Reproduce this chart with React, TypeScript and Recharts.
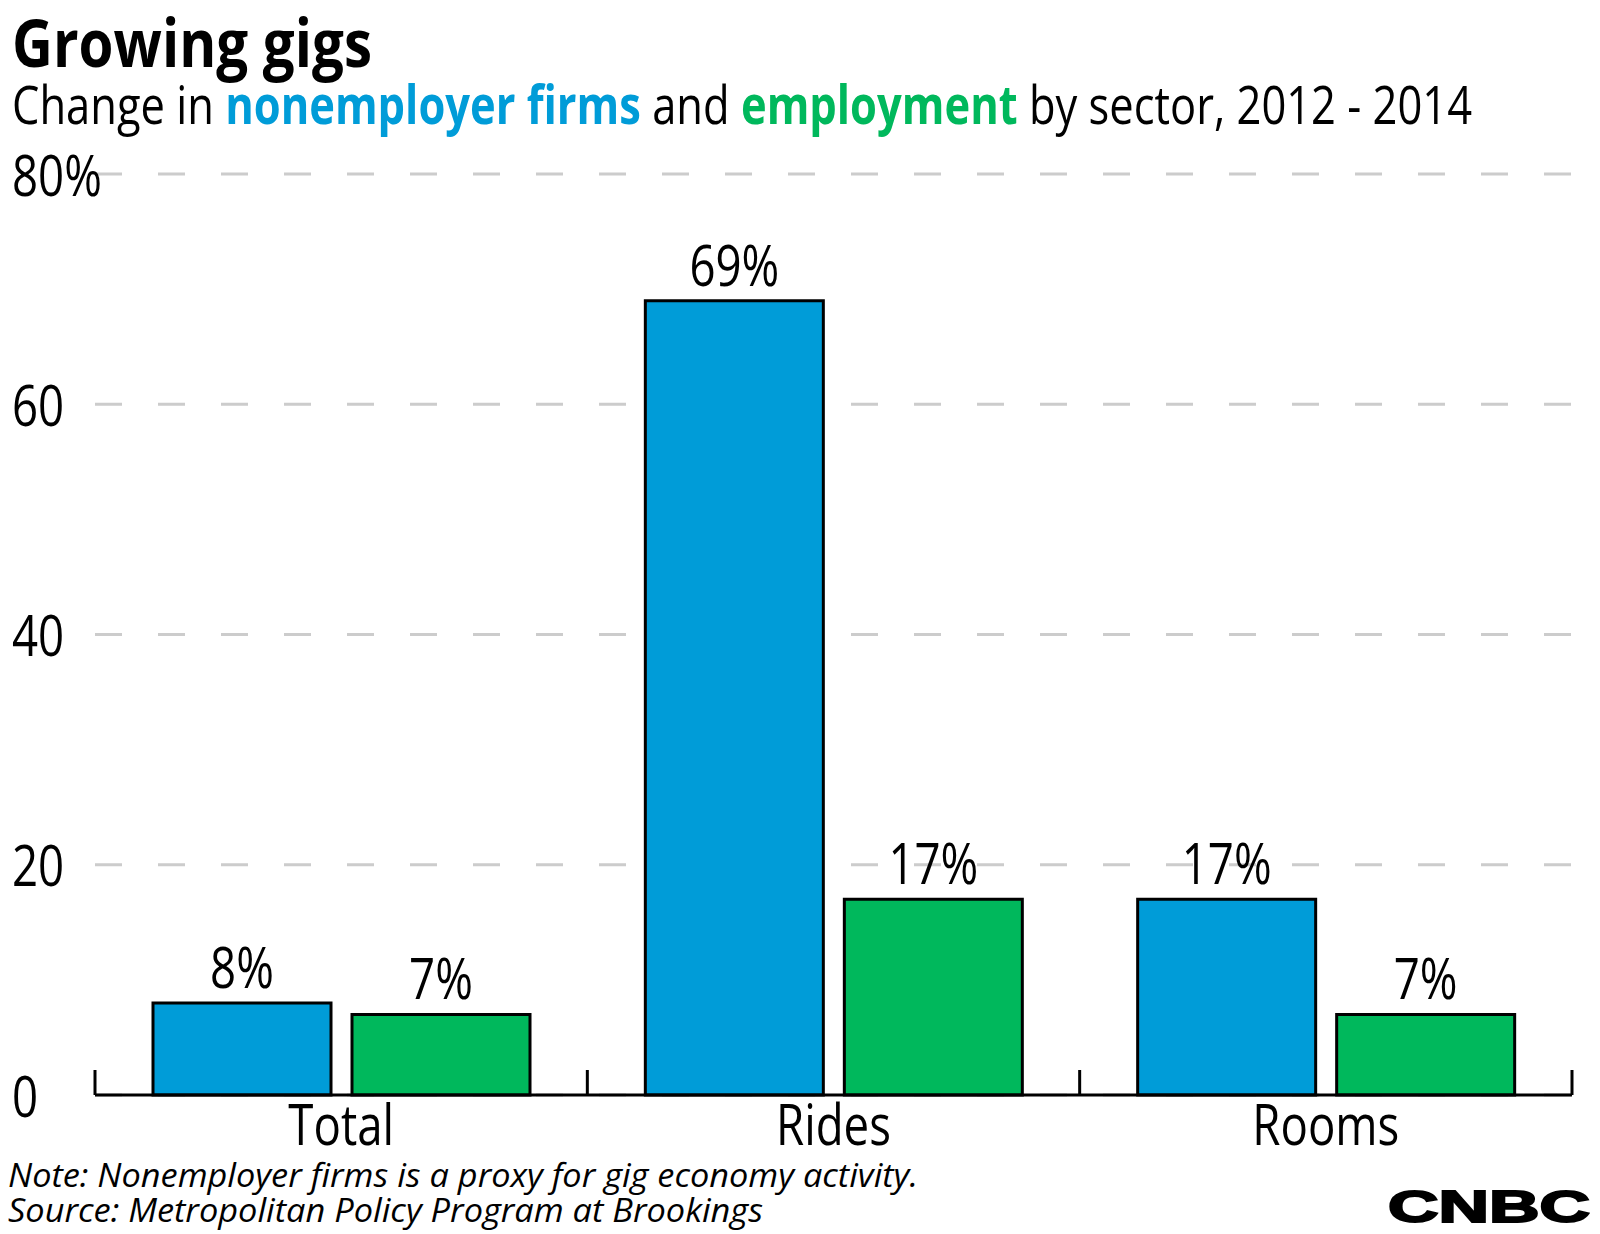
import React from 'react';
import { BarChart, Bar, XAxis, YAxis, CartesianGrid, LabelList } from 'recharts';

const sectors = ['Total', 'Rides', 'Rooms'];
const firmsChange = [8, 69, 17];
const employmentChange = [7, 17, 7];
const yTicks = [0, 20, 40, 60, 80];
const edgeTicks = [0, 1, 2, 3];

const BLUE = '#009cd8';
const GREEN = '#00b85c';
const FONT = '"Open Sans", sans-serif';
const SIZE = 57;
const SQUEEZE = 0.8;

// slot = centre of each category on a 0..3 number line, used only for the boundary ticks
const data = sectors.map((name, i) => ({
    name,
    slot: i + 0.5,
    firms: firmsChange[i],
    employment: employmentChange[i],
}));

// condensed look: the installed fonts are all regular width, so squeeze horizontally
const NarrowText = ({ x, y, dy, anchor, children }: any) => (
    <text
        transform={`translate(${x},${y}) scale(${SQUEEZE},1)`}
        dy={dy}
        textAnchor={anchor}
        fontSize={SIZE}
        fontFamily={FONT}
        fill="#000"
    >
        {children}
    </text>
);

const YTick = (props: any) => {
    const { y, payload } = props;
    const label = payload.value === 80 ? '80%' : String(payload.value);
    return <NarrowText x={12} y={y} dy="0.38em" anchor="start">{label}</NarrowText>;
};

const XTick = (props: any) => {
    const { x, y, payload } = props;
    return <NarrowText x={x} y={y} dy="0.71em" anchor="middle">{payload.value}</NarrowText>;
};

const NoTick = () => <g />;

const ValueLabel = (props: any) => {
    const box = props.viewBox && props.viewBox.width !== undefined ? props.viewBox : props;
    const cx = box.x + box.width / 2;
    return <NarrowText x={cx} y={box.y - 15} anchor="middle">{`${props.value}%`}</NarrowText>;
};

const App = () => {
    return (
        <div style={{ position: 'absolute', left: 0, top: 0, width: 1600, height: 1234, background: '#fff' }}>
            <BarChart
                width={1600}
                height={1234}
                data={data}
                margin={{ top: 174, right: 28, bottom: 79, left: 0 }}
                barCategoryGap={58}
                barGap={21}
            >
                <CartesianGrid
                    xAxisId="cat"
                    vertical={false}
                    stroke="#cccccc"
                    strokeWidth={3}
                    strokeDasharray="27 36"
                />
                <XAxis
                    xAxisId="edge"
                    dataKey="slot"
                    type="number"
                    domain={[0, 3]}
                    allowDataOverflow
                    ticks={edgeTicks}
                    mirror
                    height={1}
                    tickSize={25}
                    tick={<NoTick />}
                    tickLine={{ stroke: '#000', strokeWidth: 3 }}
                    axisLine={{ stroke: '#000', strokeWidth: 3 }}
                />
                <XAxis
                    xAxisId="cat"
                    dataKey="name"
                    height={60}
                    axisLine={false}
                    tickLine={false}
                    tickSize={0}
                    tickMargin={10}
                    tick={<XTick />}
                />
                <YAxis
                    width={95}
                    domain={[0, 80]}
                    ticks={yTicks}
                    axisLine={false}
                    tickLine={false}
                    tick={<YTick />}
                />
                <Bar xAxisId="cat" dataKey="firms" fill={BLUE} stroke="#000" strokeWidth={3} isAnimationActive={false}>
                    <LabelList dataKey="firms" content={<ValueLabel />} />
                </Bar>
                <Bar xAxisId="cat" dataKey="employment" fill={GREEN} stroke="#000" strokeWidth={3} isAnimationActive={false}>
                    <LabelList dataKey="employment" content={<ValueLabel />} />
                </Bar>
            </BarChart>
            <svg width={1600} height={1234} style={{ position: 'absolute', left: 0, top: 0, pointerEvents: 'none' }}>
                <text x={12} y={67} fontSize={67} fontWeight="bold" fontFamily={FONT} fill="#000"
                    textLength={360} lengthAdjust="spacingAndGlyphs">
                    Growing gigs
                </text>
                <text x={12} y={124} fontSize={53} fontFamily={FONT} fill="#000"
                    textLength={1460} lengthAdjust="spacingAndGlyphs">
                    Change in <tspan fill={BLUE} fontWeight="bold">nonemployer firms</tspan> and{' '}
                    <tspan fill={GREEN} fontWeight="bold">employment</tspan> by sector, 2012 - 2014
                </text>
                <text x={8} y={1187} fontSize={33} fontStyle="italic" fontFamily={FONT} fill="#000"
                    textLength={910} lengthAdjust="spacingAndGlyphs">
                    Note: Nonemployer firms is a proxy for gig economy activity.
                </text>
                <text x={8} y={1222} fontSize={33} fontStyle="italic" fontFamily={FONT} fill="#000"
                    textLength={755} lengthAdjust="spacingAndGlyphs">
                    Source: Metropolitan Policy Program at Brookings
                </text>
                <text x={1388} y={1222} fontSize={45} fontWeight="bold" fontFamily='"Liberation Sans", sans-serif'
                    fill="#000" stroke="#000" strokeWidth={2} textLength={202} lengthAdjust="spacingAndGlyphs">
                    CNBC
                </text>
            </svg>
        </div>
    );
};

export default App;
